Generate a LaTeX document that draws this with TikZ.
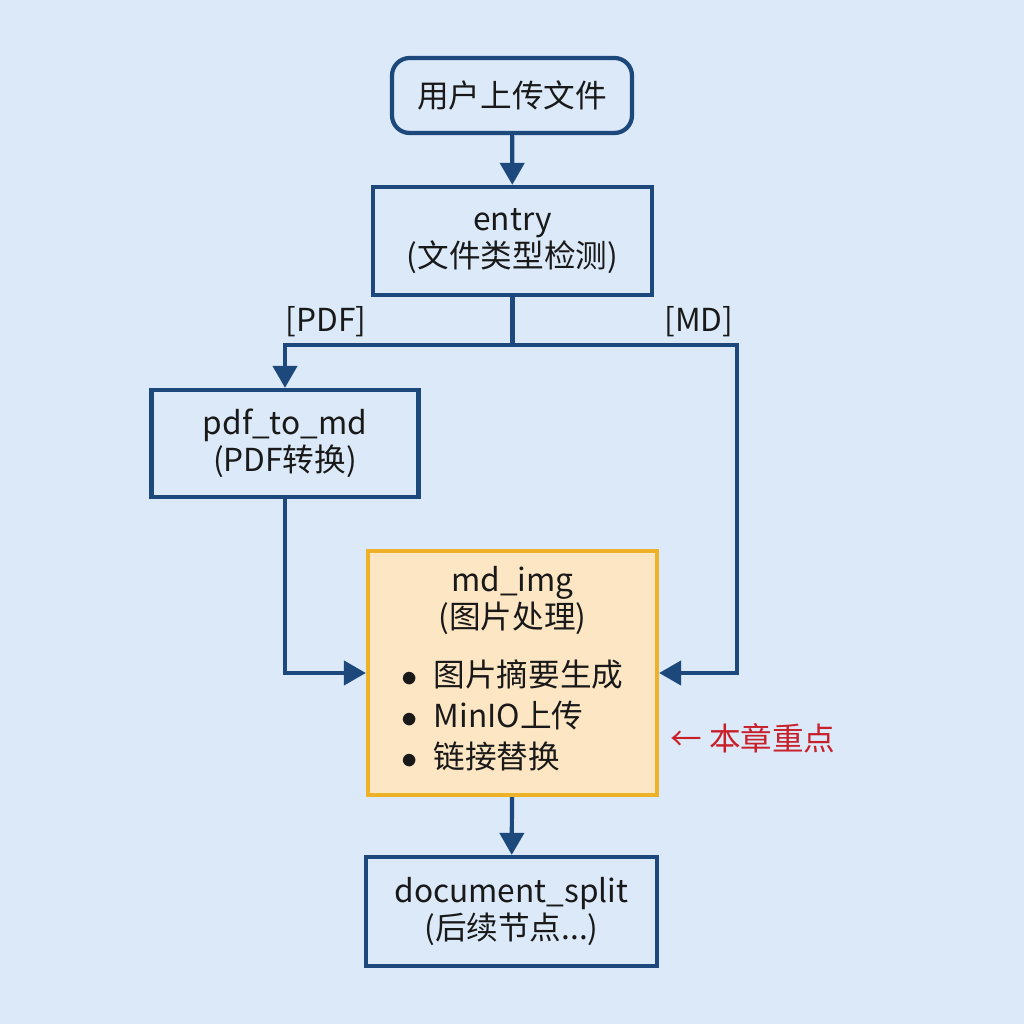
\documentclass[tikz,border=0pt]{standalone}
\usepackage{fontspec}
\setmainfont{Noto Sans CJK SC}
\usetikzlibrary{arrows.meta}

\definecolor{bgblue}{RGB}{220,233,248}
\definecolor{lineblue}{RGB}{28,72,124}
\definecolor{mdfill}{RGB}{253,230,196}
\definecolor{mdline}{RGB}{238,178,40}
\definecolor{notered}{RGB}{200,32,42}

\begin{document}
\begin{tikzpicture}[every node/.style={rectangle,draw=lineblue,line width=1.2pt,align=center,
      font=\fontsize{9}{10.4}\selectfont,text=black!90},
    flow/.style={draw=lineblue,line width=1.2pt,-{Triangle[length=2.2mm,width=2.4mm]}}]
    \fill[bgblue] (0,0) rectangle (10.24,10.24);
    \useasboundingbox (0,0) rectangle (10.24,10.24);

    \node (upload) [rounded corners=5pt,minimum width=2.4cm,minimum height=0.75cm] at (5.12,9.285) {用户上传文件};

    \node (entry) [minimum width=2.79cm,minimum height=1.08cm] at (5.125,7.83) {entry\\(文件类型检测)};

    \node (pdf) [minimum width=2.67cm,minimum height=1.07cm] at (2.85,5.805) {pdf\_to\_md\\(PDF转换)};

    \node (mdimg) [draw=mdline,fill=mdfill,minimum width=2.89cm,minimum height=2.44cm] at (5.125,3.51)
      {md\_img\\(图片处理)\\[6pt]
       \begin{tabular}{@{}l@{}}$\bullet$\enspace 图片摘要生成\\[1pt] $\bullet$\enspace MinIO上传\\[1pt] $\bullet$\enspace 链接替换\end{tabular}};

    \node (split) [minimum width=2.91cm,minimum height=1.09cm] at (5.115,1.125) {document\_split\\(后续节点...)};

    \node (pdflabel) [draw=none] at (3.26,7.02) {[PDF]};
    \node (mdlabel) [draw=none] at (6.99,7.02) {[MD]};
    \node (focus) [draw=none,text=notered] at (7.53,2.86) {← 本章重点};

    \coordinate (fork) at (5.125,6.79);
    \coordinate (mdturn) at (7.37,6.79);

  \draw[flow] (upload) -- (entry);
  \draw[draw=lineblue,line width=1.2pt] (entry.south) -- (fork);
  \draw[flow] (fork) -| (pdf.north);
  \draw[flow] (fork) -- (mdturn) |- (mdimg.east);
  \draw[flow] (pdf.south) |- (mdimg.west);
  \draw[flow] (mdimg) -- (split);
\end{tikzpicture}
\end{document}
